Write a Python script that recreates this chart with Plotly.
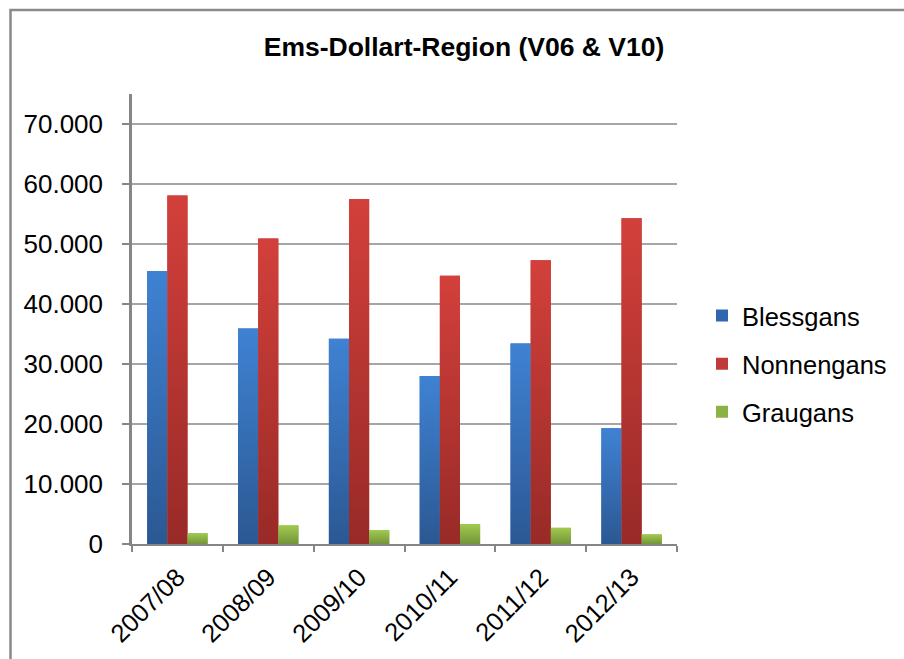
import plotly.graph_objects as go

# Winter seasons and goose counts per species
seasons = ["2007/08", "2008/09", "2009/10", "2010/11", "2011/12", "2012/13"]
blessgans = [45500, 35900, 34200, 28000, 33400, 19300]
nonnengans = [58100, 50900, 57500, 44700, 47300, 54300]
graugans = [1800, 3100, 2300, 3300, 2700, 1600]
y_ticks = [0, 10000, 20000, 30000, 40000, 50000, 60000, 70000]
y_tick_text = ["0", "10.000", "20.000", "30.000", "40.000", "50.000", "60.000", "70.000"]

series = [
    ("Blessgans", blessgans, "#2f66ad", "#2b5893", "#3f82d3"),
    ("Nonnengans", nonnengans, "#c03a37", "#982a27", "#d3403b"),
    ("Graugans", graugans, "#8cb144", "#74943a", "#a0ca4e"),
]

W, H = 904, 659
PL, PR, PT, PB = 132, 677, 93.6, 544.3   # plot area in pixels
Y_MAX = 75000
BARGAP = 0.335
FONT = "Liberation Sans, Arial, sans-serif"

fig = go.Figure()

# Plain bars (also provide legend entries)
for name, vals, col, dark, light in series:
    fig.add_trace(go.Bar(
        x=seasons, y=vals, name=name, marker=dict(color=col, line=dict(width=0)),
        legendgroup=name,
    ))

# Vertical gradient overlays on each bar, placed on a numeric twin x-axis
group_w = 1 - BARGAP
bar_w = group_w / len(series)
for j, (name, vals, col, dark, light) in enumerate(series):
    for i, v in enumerate(vals):
        x0 = i - group_w / 2 + j * bar_w
        x1 = x0 + bar_w
        fig.add_trace(go.Scatter(
            x=[x0, x1, x1, x0, x0], y=[0, 0, v, v, 0],
            xaxis="x2", yaxis="y", mode="lines", line=dict(width=0),
            fill="toself",
            fillgradient=dict(type="vertical", colorscale=[[0, dark], [1, light]]),
            showlegend=False, hoverinfo="skip",
        ))

def px_x(p):
    return (p - PL) / (PR - PL)

def px_y(p):
    return (PB - p) / (PB - PT)

axis_col = "#868686"
fig.update_layout(
    width=W, height=H,
    margin=dict(l=PL, r=W - PR, t=PT, b=H - PB, pad=0),
    paper_bgcolor="white", plot_bgcolor="white",
    barmode="group", bargap=BARGAP, bargroupgap=0,
    font=dict(family=FONT, size=25, color="#000000"),
    title=dict(
        text="<b>Ems-Dollart-Region (V06 & V10)</b>",
        x=464 / W, xanchor="center", y=1 - 47 / H, yanchor="middle",
        font=dict(family=FONT, size=26.5, color="#000000"),
    ),
    xaxis=dict(
        type="category", tickson="boundaries", ticks="outside", ticklen=6,
        tickwidth=2, tickcolor=axis_col, showline=True, linecolor=axis_col,
        linewidth=2, showgrid=False, tickangle=-45, ticklabelstandoff=6,
        tickfont=dict(size=25.5), fixedrange=True,
    ),
    xaxis2=dict(
        overlaying="x", range=[-0.5, len(seasons) - 0.5], visible=False,
        fixedrange=True,
    ),
    yaxis=dict(
        range=[0, Y_MAX], tickvals=y_ticks, ticktext=y_tick_text,
        ticks="outside", ticklen=7, tickwidth=2, tickcolor=axis_col,
        showline=True, linecolor=axis_col, linewidth=2.5,
        showgrid=True, gridcolor="#a6a6a6", gridwidth=1.5,
        zeroline=False, tickfont=dict(size=26), ticklabelstandoff=14,
        fixedrange=True,
    ),
    legend=dict(
        x=px_x(702), xanchor="left", y=px_y(364), yanchor="middle",
        font=dict(size=25.5), tracegroupgap=12, bgcolor="rgba(0,0,0,0)",
    ),
    showlegend=True,
)

# Chart frame (top and left edges visible)
fig.add_shape(
    type="rect", xref="paper", yref="paper",
    x0=px_x(10.5), x1=px_x(W + 20), y0=px_y(H + 20), y1=px_y(9.5),
    line=dict(color="#8a8a8a", width=2.5), fillcolor="rgba(0,0,0,0)",
    layer="below",
)

fig.write_html("out.html")
